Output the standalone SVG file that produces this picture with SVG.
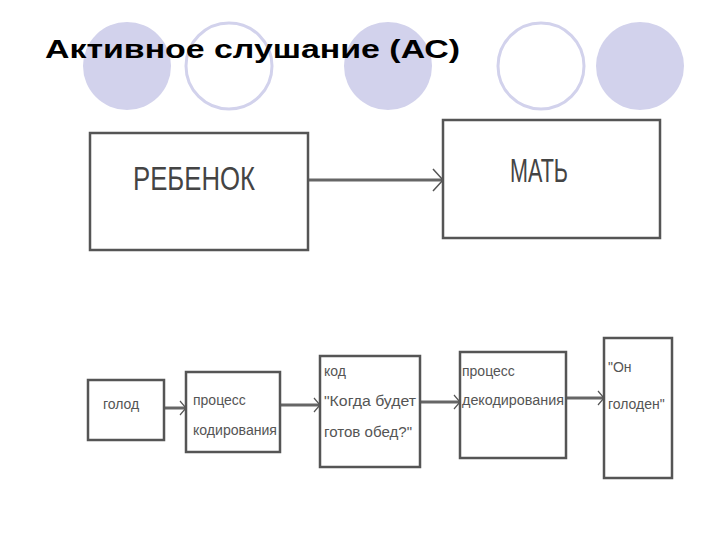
<svg xmlns="http://www.w3.org/2000/svg" width="720" height="540" viewBox="0 0 720 540">
<defs>
<style>
.f{fill:#d2d2ec}.o{fill:#fff;stroke:#d2d2ec;stroke-width:3}
.b{fill:#fff;stroke:#555;stroke-width:2.5}
.c{stroke:#666;stroke-width:3;fill:none}
.t{font-family:"Liberation Sans Narrow","Liberation Sans",sans-serif;fill:#555;font-size:14px}
.T{font-family:"Liberation Sans Narrow","Liberation Sans",sans-serif;fill:#444;font-size:34px}
</style>
<marker id="a" markerWidth="12" markerHeight="24" refX="11" refY="12" orient="auto" markerUnits="userSpaceOnUse"><path d="M1,1 L11,12 L1,23" fill="none" stroke="#555" stroke-width="1.5"/></marker>
<marker id="s" markerWidth="8" markerHeight="16" refX="7" refY="8" orient="auto" markerUnits="userSpaceOnUse"><path d="M1,1 L7,8 L1,15" fill="none" stroke="#555" stroke-width="1.2"/></marker>
</defs>
<rect width="720" height="540" fill="#fff"/>
<g id="deco">
<circle class="f" cx="127" cy="66" r="44"/><circle class="o" cx="229" cy="66" r="43"/>
<circle class="f" cx="388" cy="66" r="44"/><circle class="o" cx="541" cy="66" r="43"/>
<circle class="f" cx="640" cy="66" r="44"/>
</g>
<text x="45" y="58" font-family="Liberation Sans,sans-serif" font-weight="bold" font-size="25" textLength="415" lengthAdjust="spacingAndGlyphs">Активное слушание (АС)</text>
<g id="connectors">
<line class="c" x1="308" y1="180" x2="443" y2="180" marker-end="url(#a)"/>
<line class="c" x1="164" y1="408" x2="186" y2="408" marker-end="url(#s)"/>
<line class="c" x1="280" y1="405" x2="320" y2="405" marker-end="url(#s)"/>
<line class="c" x1="420" y1="402" x2="460" y2="402" marker-end="url(#s)"/>
<line class="c" x1="566" y1="398" x2="604" y2="398" marker-end="url(#s)"/>
</g>
<g id="n1"><rect class="b" x="90" y="133" width="218" height="117"/><text class="T" x="133" y="190" textLength="122" lengthAdjust="spacingAndGlyphs">РЕБЕНОК</text></g>
<g id="n2"><rect class="b" x="443" y="120" width="217" height="118"/><text class="T" x="510" y="182" textLength="58" lengthAdjust="spacingAndGlyphs">МАТЬ</text></g>
<g id="n3"><rect class="b" x="88" y="380" width="76" height="60"/><text class="t" x="103" y="409">голод</text></g>
<g id="n4"><rect class="b" x="186" y="372" width="94" height="80"/><text class="t" x="193" y="405">процесс</text><text class="t" x="193" y="435" textLength="84" lengthAdjust="spacingAndGlyphs">кодирования</text></g>
<g id="n5"><rect class="b" x="320" y="356" width="100" height="111"/><text class="t" x="324" y="376">код</text><text class="t" x="324" y="406" textLength="92" lengthAdjust="spacingAndGlyphs">"Когда будет</text><text class="t" x="324" y="437" textLength="88" lengthAdjust="spacingAndGlyphs">готов обед?"</text></g>
<g id="n6"><rect class="b" x="460" y="352" width="106" height="106"/><text class="t" x="462" y="376">процесс</text><text class="t" x="462" y="405" textLength="102" lengthAdjust="spacingAndGlyphs">декодирования</text></g>
<g id="n7"><rect class="b" x="604" y="338" width="68" height="140"/><text class="t" x="608" y="372">"Он</text><text class="t" x="608" y="409">голоден"</text></g>
</svg>
